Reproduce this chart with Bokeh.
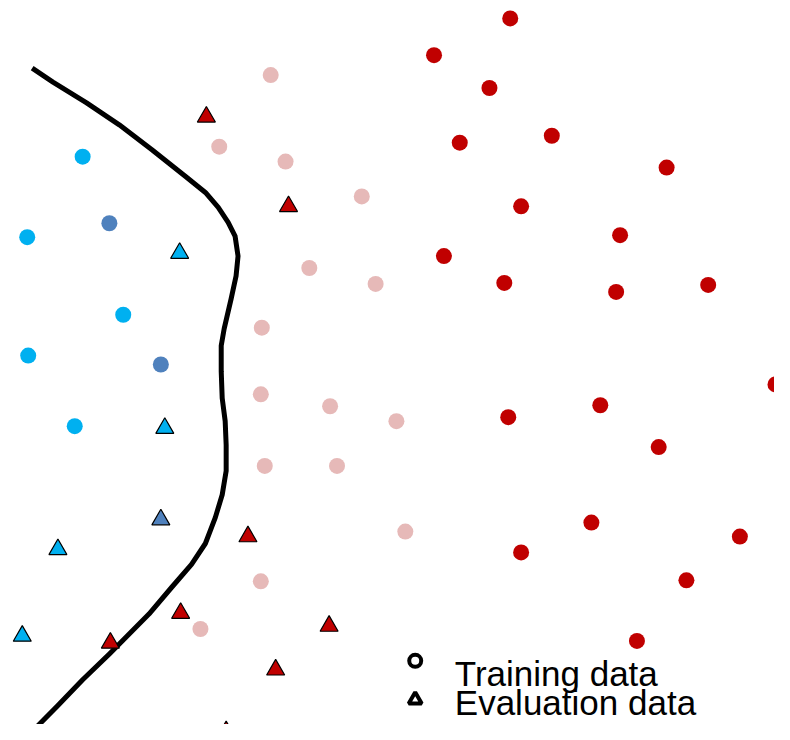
from bokeh.plotting import figure
from bokeh.models import Range1d
from bokeh.embed import file_html
from bokeh.resources import INLINE
from bokeh.core.properties import value

# Training data (circles), in picture coordinates
train_lightblue_x = [83, 27, 124, 28, 75]
train_lightblue_y = [157, 238, 316, 357, 428]
train_steel_x = [110, 162]
train_steel_y = [224, 366]
train_pink_x = [273, 221, 288, 365, 312, 379, 264, 263, 333, 400, 267, 340, 409, 263, 202]
train_pink_y = [75, 147, 162, 197, 269, 285, 329, 396, 408, 423, 468, 468, 534, 584, 632]
train_red_x = [515, 438, 494, 464, 557, 673, 526, 626, 448, 509, 622, 715, 783, 513, 606, 665, 597, 747, 526, 693, 643]
train_red_y = [18, 55, 88, 143, 136, 168, 207, 236, 257, 284, 293, 286, 386, 419, 407, 449, 525, 539, 555, 583, 644]

# Evaluation data (triangles)
eval_lightblue_x = [181, 166, 58, 22]
eval_lightblue_y = [254, 430, 552, 639]
eval_steel_x = [162]
eval_steel_y = [522]
eval_red_x = [208, 291, 250, 182, 111, 332, 278, 228]
eval_red_y = [117, 207, 539, 616, 646, 629, 673, 735]

# Decision boundary
curve_x = [32, 53, 87, 120, 153, 187, 207, 220, 230, 237, 240, 238, 233, 226, 223, 223,
           224, 227, 228, 228, 224, 217, 207, 193, 173, 150, 127, 110, 83, 57, 30]
curve_y = [68, 82, 103, 125, 150, 177, 193, 208, 223, 237, 257, 277, 300, 330, 347, 373,
           400, 423, 447, 473, 497, 520, 546, 567, 590, 617, 640, 657, 683, 710, 737]

legend_labels = ["Training data", "Evaluation data"]

LIGHTBLUE = "#00B0F0"
STEEL = "#4F81BD"
PINK = "#E6B9B8"
RED = "#C00000"

p = figure(width=774, height=724, x_range=Range1d(0, 782), y_range=Range1d(728, 0),
           output_backend="svg", toolbar_location=None, min_border=0)
p.axis.visible = False
p.grid.visible = False
p.outline_line_color = None
p.background_fill_color = "white"
p.border_fill_color = "white"

p.line(curve_x, curve_y, line_color="black", line_width=5, line_join="round", line_cap="butt")

p.scatter(train_lightblue_x, train_lightblue_y, size=16, marker="circle", fill_color=LIGHTBLUE, line_color=None)
p.scatter(train_steel_x, train_steel_y, size=16, marker="circle", fill_color=STEEL, line_color=None)
p.scatter(train_pink_x, train_pink_y, size=16, marker="circle", fill_color=PINK, line_color=None)
p.scatter(train_red_x, train_red_y, size=16, marker="circle", fill_color=RED, line_color=None)

p.scatter(eval_lightblue_x, eval_lightblue_y, size=18, marker="triangle", fill_color=LIGHTBLUE, line_color="black", line_width=1.2)
p.scatter(eval_steel_x, eval_steel_y, size=18, marker="triangle", fill_color=STEEL, line_color="black", line_width=1.2)
p.scatter(eval_red_x, eval_red_y, size=18, marker="triangle", fill_color=RED, line_color="black", line_width=1.2)

# Legend
p.scatter([419], [664], size=12, marker="circle", fill_color="white", line_color="black", line_width=4)
p.scatter([419], [703], size=13, marker="triangle", fill_color="white", line_color="black", line_width=4)
p.text([459, 459], [677, 706], text=legend_labels, text_font=value("Liberation Sans"),
       text_font_size="35px", text_color="black", text_baseline="middle", text_align="left")

open("out.html", "w").write(file_html(p, INLINE))
